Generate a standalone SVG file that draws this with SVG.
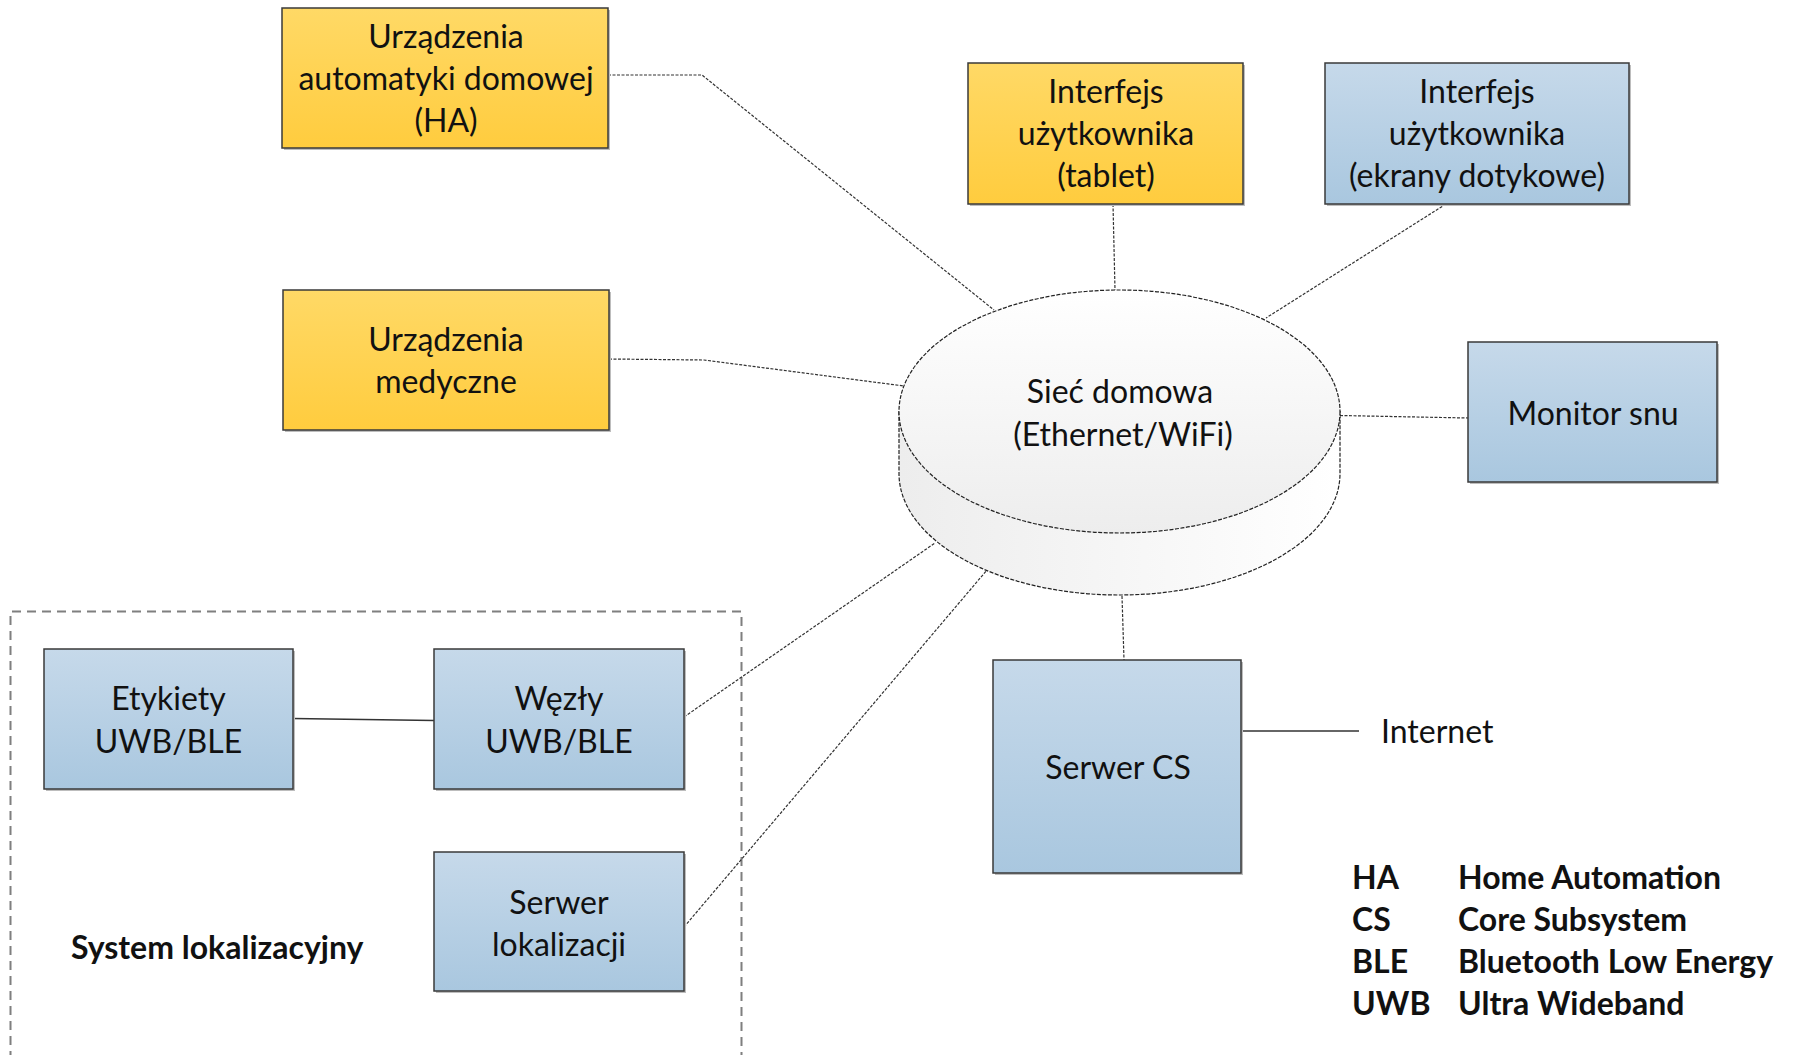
<svg xmlns="http://www.w3.org/2000/svg" width="1799" height="1055" viewBox="0 0 1799 1055">
  <defs>
    <linearGradient id="gYellow" x1="0" y1="0" x2="0" y2="1">
      <stop offset="0" stop-color="#FFD966"/>
      <stop offset="1" stop-color="#FFCC3E"/>
    </linearGradient>
    <linearGradient id="gBlue" x1="0" y1="0" x2="0" y2="1">
      <stop offset="0" stop-color="#C6D9EA"/>
      <stop offset="1" stop-color="#A9C7DF"/>
    </linearGradient>
    <linearGradient id="gTop" x1="0" y1="0" x2="0" y2="1">
      <stop offset="0" stop-color="#FFFFFF"/>
      <stop offset="1" stop-color="#EDEDED"/>
    </linearGradient>
    <linearGradient id="gSide" x1="0" y1="0" x2="1" y2="0">
      <stop offset="0" stop-color="#EDEDED"/>
      <stop offset="1" stop-color="#FFFFFF"/>
    </linearGradient>
  </defs>
  <style>
    .box { stroke: #3A3A3A; stroke-width: 1.5; }
    .ha { fill: url(#gYellow); }
    .bl { fill: url(#gBlue); }
    .shadow { fill: #BDBDBD; }
    .t { font-family: Lato, "Liberation Sans", sans-serif; font-size: 32px; fill: #111; }
    .c { text-anchor: middle; }
    .b { font-weight: bold; }
    .link { fill: none; stroke: #333; stroke-width: 1.2; stroke-dasharray: 3 1.5; }
    .solid { fill: none; stroke: #333; stroke-width: 1.5; }
    .frame { fill: none; stroke: #7F7F7F; stroke-width: 2; stroke-dasharray: 9 6; }
    .net { stroke: #222; stroke-width: 1.2; stroke-dasharray: 4 1.5; }
  </style>

  <rect width="1799" height="1055" fill="#FFFFFF"/>

  <!-- localisation system frame (open at the bottom edge) -->
  <path class="frame" d="M 10.5 1060 L 10.5 611.5 L 741.5 611.5 L 741.5 1060"/>

  <!-- connectors -->
  <g id="connectors">
    <polyline class="link" points="608,75 702,75 994,310"/>
    <polyline class="link" points="609,359 704,360 904,386"/>
    <line class="link" x1="1113" y1="204" x2="1115" y2="290"/>
    <line class="link" x1="1446" y1="204" x2="1266" y2="318"/>
    <line class="link" x1="1340" y1="415.5" x2="1468" y2="418"/>
    <line class="link" x1="684" y1="717" x2="935" y2="543"/>
    <line class="link" x1="684" y1="927" x2="987" y2="570"/>
    <line class="link" x1="1122" y1="596" x2="1124" y2="660"/>
    <line class="solid" x1="293" y1="718.5" x2="434" y2="720.5"/>
    <line class="solid" x1="1242" y1="731" x2="1359" y2="731"/>
  </g>

  <!-- home network (cylinder) -->
  <g id="network">
    <path class="net" fill="url(#gSide)" d="M 899 411.5 L 899 473.5 A 220.5 121.5 0 0 0 1340 473.5 L 1340 411.5 Z"/>
    <ellipse class="net" cx="1119.5" cy="411.5" rx="220.5" ry="121.5" fill="url(#gTop)"/>
    <text class="t c" x="1120" y="403">Sieć domowa</text>
    <text class="t c" x="1123" y="446">(Ethernet/WiFi)</text>
  </g>

  <g id="ha-devices">
    <rect class="shadow" x="284" y="10" width="326" height="140"/>
    <rect class="box ha" x="282" y="8" width="326" height="140"/>
    <text class="t c" x="446" y="48">Urządzenia</text>
    <text class="t c" x="446" y="90">automatyki domowej</text>
    <text class="t c" x="446" y="132">(HA)</text>
  </g>

  <g id="medical-devices">
    <rect class="shadow" x="285" y="292" width="326" height="140"/>
    <rect class="box ha" x="283" y="290" width="326" height="140"/>
    <text class="t c" x="446" y="351">Urządzenia</text>
    <text class="t c" x="446" y="393">medyczne</text>
  </g>

  <g id="ui-tablet">
    <rect class="shadow" x="970" y="65" width="275" height="141"/>
    <rect class="box ha" x="968" y="63" width="275" height="141"/>
    <text class="t c" x="1106" y="103">Interfejs</text>
    <text class="t c" x="1106" y="145">użytkownika</text>
    <text class="t c" x="1106" y="187">(tablet)</text>
  </g>

  <g id="ui-touchscreens">
    <rect class="shadow" x="1327" y="65" width="304" height="141"/>
    <rect class="box bl" x="1325" y="63" width="304" height="141"/>
    <text class="t c" x="1477" y="103">Interfejs</text>
    <text class="t c" x="1477" y="145">użytkownika</text>
    <text class="t c" x="1477" y="187">(ekrany dotykowe)</text>
  </g>

  <g id="sleep-monitor">
    <rect class="shadow" x="1470" y="344" width="249" height="140"/>
    <rect class="box bl" x="1468" y="342" width="249" height="140"/>
    <text class="t c" x="1593" y="425">Monitor snu</text>
  </g>

  <g id="cs-server">
    <rect class="shadow" x="995" y="662" width="248" height="213"/>
    <rect class="box bl" x="993" y="660" width="248" height="213"/>
    <text class="t c" x="1118" y="779">Serwer CS</text>
  </g>

  <g id="internet">
    <text class="t" x="1381" y="743">Internet</text>
  </g>

  <g id="uwb-tags">
    <rect class="shadow" x="46" y="651" width="249" height="140"/>
    <rect class="box bl" x="44" y="649" width="249" height="140"/>
    <text class="t c" x="168.5" y="710">Etykiety</text>
    <text class="t c" x="168.5" y="753">UWB/BLE</text>
  </g>

  <g id="uwb-anchors">
    <rect class="shadow" x="436" y="651" width="250" height="140"/>
    <rect class="box bl" x="434" y="649" width="250" height="140"/>
    <text class="t c" x="559" y="710">Węzły</text>
    <text class="t c" x="559" y="753">UWB/BLE</text>
  </g>

  <g id="location-server">
    <rect class="shadow" x="436" y="854" width="250" height="139"/>
    <rect class="box bl" x="434" y="852" width="250" height="139"/>
    <text class="t c" x="559" y="914">Serwer</text>
    <text class="t c" x="559" y="956">lokalizacji</text>
  </g>

  <g id="location-system-label">
    <text class="t b" x="71" y="959">System lokalizacyjny</text>
  </g>

  <g id="legend">
    <text class="t b" x="1352" y="889">HA</text>
    <text class="t b" x="1458" y="889">Home Automation</text>
    <text class="t b" x="1352" y="931">CS</text>
    <text class="t b" x="1458" y="931">Core Subsystem</text>
    <text class="t b" x="1352" y="973">BLE</text>
    <text class="t b" x="1458" y="973">Bluetooth Low Energy</text>
    <text class="t b" x="1352" y="1015">UWB</text>
    <text class="t b" x="1458" y="1015">Ultra Wideband</text>
  </g>
</svg>
